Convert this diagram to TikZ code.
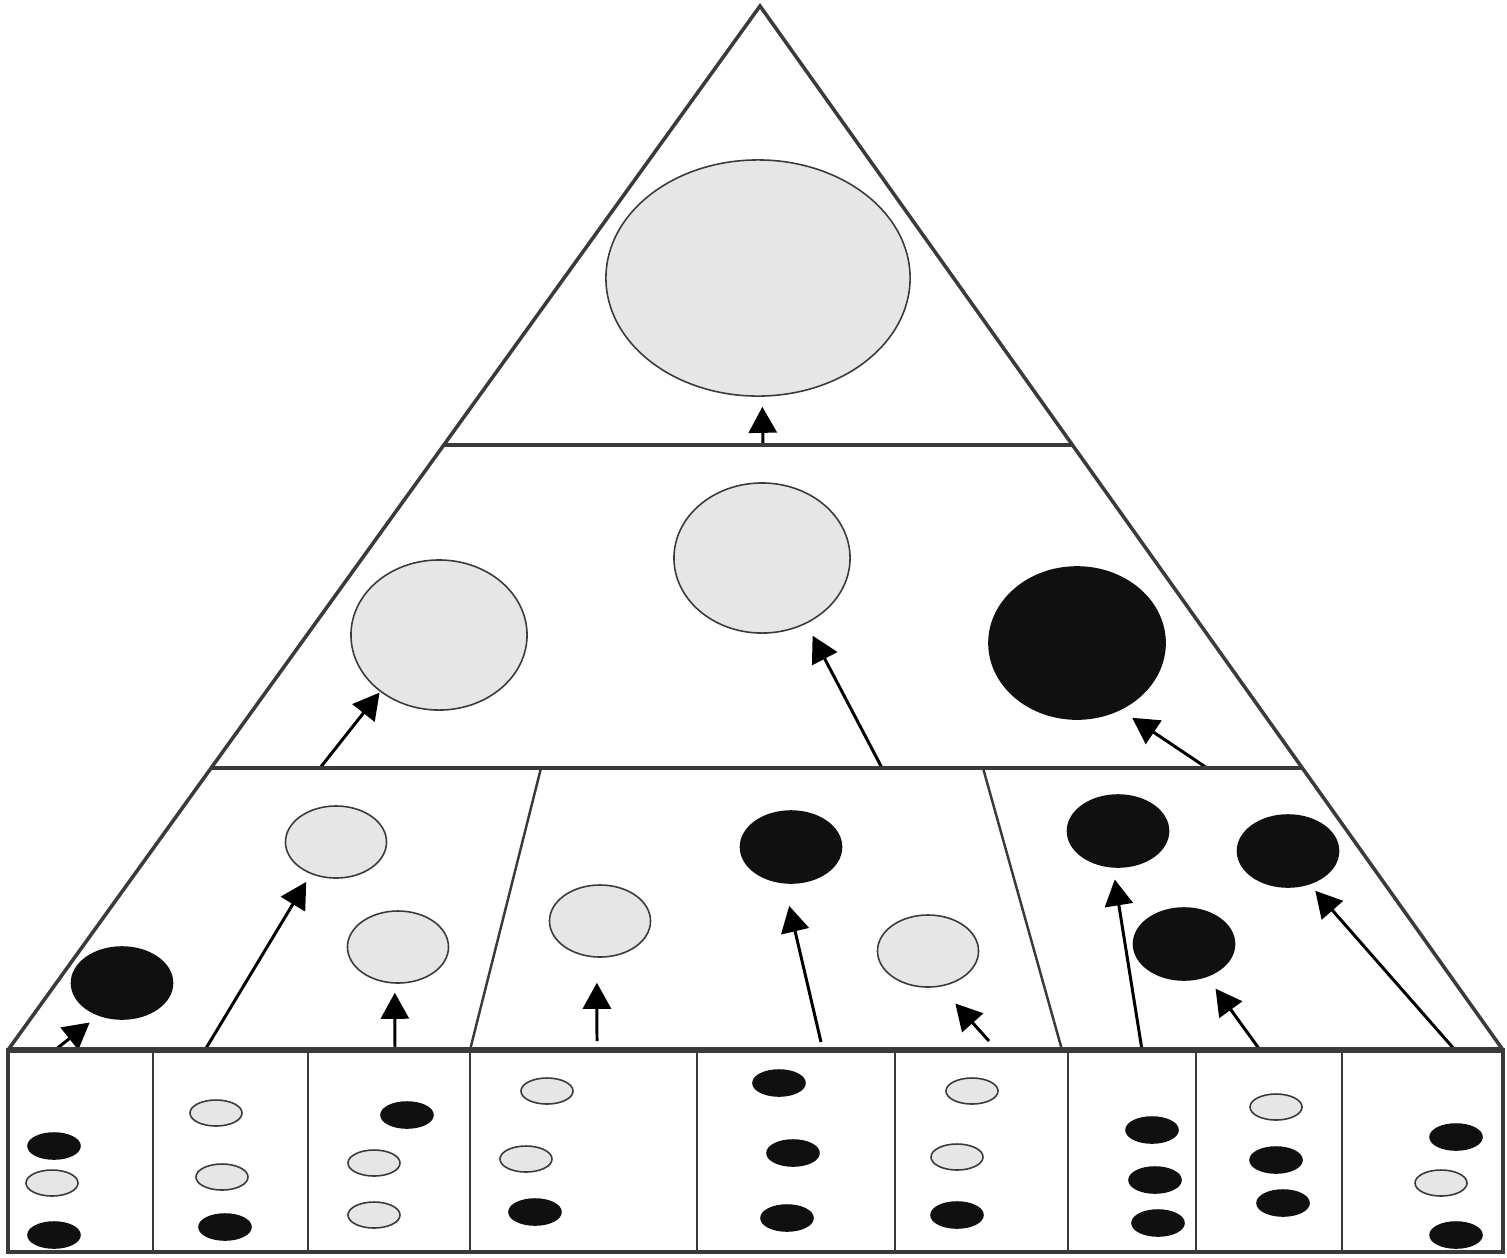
\documentclass[tikz,border=0pt]{standalone}
\usetikzlibrary{shapes.geometric,arrows.meta}
\definecolor{lgray}{HTML}{E6E6E6}
\definecolor{dk}{HTML}{101010}
\definecolor{ln}{HTML}{3A3A3A}
\tikzset{
  gr/.style={ellipse, draw=ln, line width=0.45pt, fill=lgray, inner sep=0pt},
  bk/.style={ellipse, draw=dk, line width=0.45pt, fill=dk, inner sep=0pt},
  bigell/.style={minimum width=1.76cm, minimum height=1.5cm},
  midell/.style={minimum width=1.01cm, minimum height=0.72cm},
  smlell/.style={minimum width=0.52cm, minimum height=0.26cm},
  arr/.style={line width=0.85pt, draw=black, -{Triangle[length=0.26cm,width=0.28cm]}},
  thinline/.style={draw=ln, line width=0.7pt},
}
\begin{document}
\begin{tikzpicture}[x=0.01cm, y=-0.01cm]
\useasboundingbox (0,0) rectangle (1507,1257);
\fill[white] (0,0) rectangle (1507,1257);

% key points of the pyramid
\coordinate (apex) at (760,6);
\coordinate (bl) at (8,1050);
\coordinate (br) at (1503,1050);

% top tier
\node[gr, minimum width=3.04cm, minimum height=2.36cm] (top) at (758,278) {};

% second tier
\node[gr, bigell] (m1) at (439,635) {};
\node[gr, bigell] (m2) at (762,558) {};
\node[bk, bigell, minimum height=1.52cm] (m3) at (1077,643) {};

% third tier
\node[bk, midell] (a1) at (122,983) {};
\node[gr, midell] (a2) at (336,842) {};
\node[gr, midell] (a3) at (398,947) {};
\node[gr, midell] (a4) at (600,921) {};
\node[bk, midell] (a5) at (791,847) {};
\node[gr, midell] (a6) at (928,951) {};
\node[bk, midell] (a7) at (1118,831) {};
\node[bk, midell] (a8) at (1184,944) {};
\node[bk, midell] (a9) at (1288,851) {};

% bottom row of small ellipses
\foreach \s/\x/\y/\n in {
  bk/54/1146/s11, gr/52/1183/s12, bk/54/1235/s13,
  gr/216/1113/s21, gr/222/1177/s22, bk/225/1227/s23,
  bk/407/1115/s31, gr/374/1163/s32, gr/374/1215/s33,
  gr/547/1091/s41, gr/526/1159/s42, bk/535/1212/s43,
  bk/779/1083/s51, bk/793/1153/s52, bk/787/1218/s53,
  gr/972/1091/s61, gr/957/1157/s62, bk/957/1215/s63,
  bk/1152/1130/s71, bk/1155/1180/s72, bk/1158/1223/s73,
  gr/1276/1107/s81, bk/1276/1160/s82, bk/1283/1203/s83,
  bk/1456/1137/s91, gr/1441/1183/s92, bk/1456/1235/s93}
  \node[\s, smlell] (\n) at (\x,\y) {};

% arrow tails
\coordinate (t1) at (55,1050);
\coordinate (t2) at (205,1050);
\coordinate (t3) at (395,1050);
\coordinate (t4) at (597,1041);
\coordinate (t5) at (821,1042);
\coordinate (t6) at (989,1041);
\coordinate (t7) at (1142,1050);
\coordinate (t8) at (1260,1050);
\coordinate (t9) at (1455,1050);
\coordinate (u1) at (320,768);
\coordinate (u2) at (882,768);
\coordinate (u3) at (1207,768);
\coordinate (v1) at (763,445);

% arrows
\draw[arr, shorten >=0.11cm] (t1) -- (a1.234);
\draw[arr, shorten >=0.09cm] (t2) -- (a2.232);
\draw[arr, shorten >=0.09cm] (t3) -- (a3.265);
\draw[arr, shorten >=0.25cm] (t4) -- (a4.265);
\draw[arr, shorten >=0.23cm] (t5) -- (a5.259);
\draw[arr, shorten >=0.225cm] (t6) -- (a6.289);
\draw[arr, shorten >=0.12cm] (t7) -- (a7.262);
\draw[arr, shorten >=0.145cm] (t8) -- (a8.305);
\draw[arr, shorten >=0.085cm] (t9) -- (a9.303);
\draw[arr, shorten >=0.01cm] (u1) -- (m1.224);
\draw[arr, shorten >=0.135cm] (u2) -- (m2.304);
\draw[arr, shorten >=0.14cm] (u3) -- (m3.303);
\draw[arr, shorten >=0.10cm] (v1) -- (top.272);

% pyramid outline and tier lines
\draw[draw=ln, line width=1pt, line join=miter] (bl) -- (apex) -- (br);
\draw[draw=ln, line width=1pt] (443.8,445) -- (1072.4,445);
\draw[draw=ln, line width=1.4pt] (211.1,768) -- (1302.3,768);
\draw[thinline] (541,768) -- (470,1050);
\draw[thinline] (983,768) -- (1062,1050);

% bottom box
\draw[draw=ln, line width=1pt] (8,1050) rectangle (1503,1252);
\foreach \x in {153,308,470,697,895,1068,1196,1342}
  \draw[thinline] (\x,1050) -- (\x,1252);
\draw[draw=ln, line width=1.7pt] (bl) -- (br);
\end{tikzpicture}
\end{document}
